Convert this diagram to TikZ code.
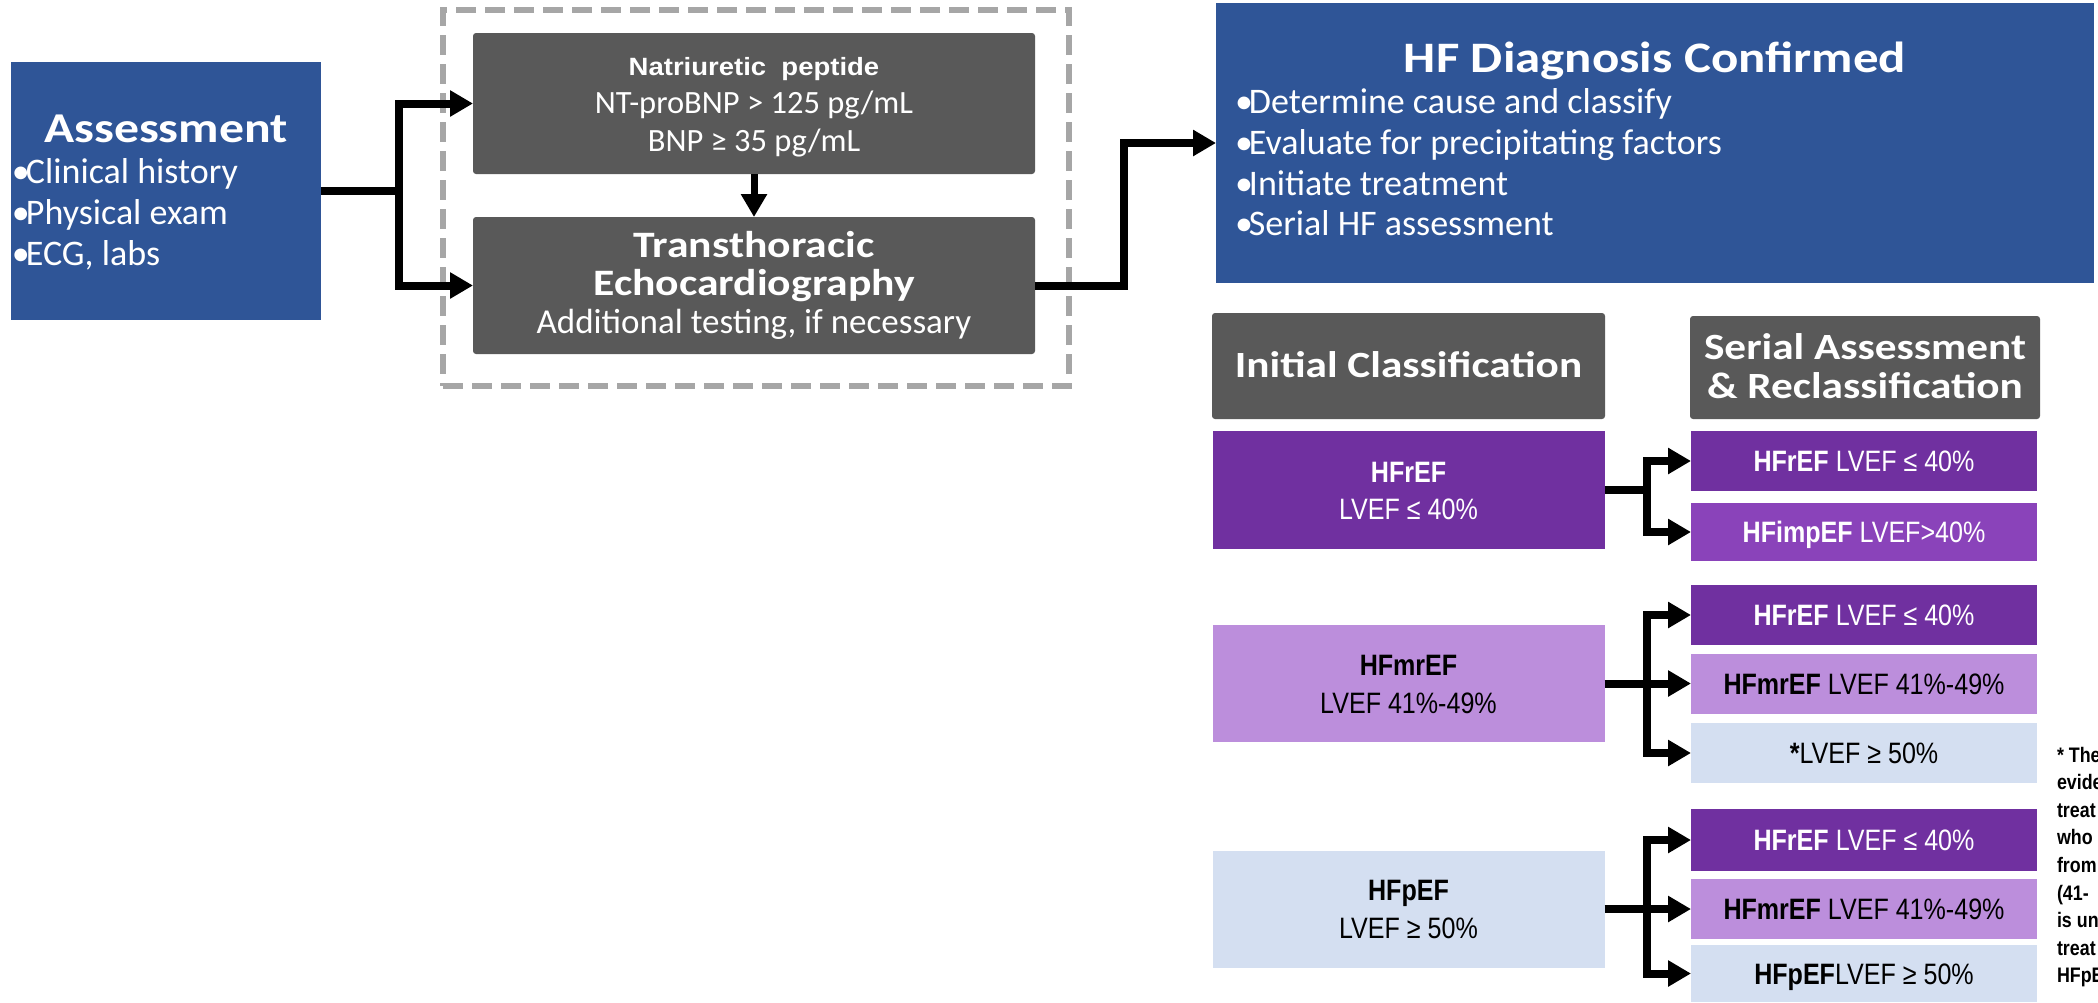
\documentclass[tikz,border=0pt]{standalone}
\usepackage{fontspec}
\setmainfont{Carlito}
\newfontfamily\wideface[FakeStretch=1.17]{Carlito}
\newfontfamily\narrowface[FakeStretch=0.85]{Liberation Sans}
\newfontfamily\npface[FakeStretch=1.1]{Liberation Sans}
\usetikzlibrary{arrows.meta}

\newcommand\blt{•\kern-4pt}

\definecolor{navy}{HTML}{2F5597}
\definecolor{slate}{HTML}{595959}
\definecolor{framegray}{HTML}{A6A6A6}
\definecolor{deeppurple}{HTML}{7030A0}
\definecolor{imppurple}{HTML}{8A43BA}
\definecolor{lilac}{HTML}{BC8EDC}
\definecolor{paleblue}{HTML}{D4DFF1}

\tikzset{
  box/.style={rectangle, inner sep=0pt, outer sep=0pt},
  graybox/.style={box, fill=slate, rounded corners=3pt},
  lbl/.style={inner sep=0pt, outer sep=0pt, anchor=base},
  lblw/.style={inner sep=0pt, outer sep=0pt, anchor=base west},
  headtxt/.style={font=\wideface\bfseries\fontsize{42.5}{51}\selectfont, text=white},
  bullettxt/.style={font=\fontsize{36}{43}\selectfont, text=white},
  classtxt/.style={font=\narrowface\fontsize{29.5}{37}\selectfont},
  reclass/.style={box, minimum width=346pt, font=\narrowface\fontsize{29.5}{37}\selectfont,
                  text height=21pt, text depth=0pt},
  initbox/.style={box, minimum width=392pt},
  conn/.style={line width=8pt, -{Triangle[length=23pt,width=25pt]}},
  notetxt/.style={lblw, font=\narrowface\bfseries\fontsize{21}{25}\selectfont},
}

\begin{document}
\begin{tikzpicture}[x=1pt,y=-1pt]
\useasboundingbox (0,0) rectangle (2098,1002);

% ---------- assessment ----------
\node[box, fill=navy, minimum width=310pt, minimum height=258pt] (assess) at (166,191) {};
\node[lbl, headtxt] (assesst) at (166,142) {Assessment};
\node[lblw, bullettxt] (assessb1) at (12,183) {\blt Clinical history};
\node[lblw, bullettxt] (assessb2) at (12,224) {\blt Physical exam};
\node[lblw, bullettxt] (assessb3) at (12,265) {\blt ECG, labs};

% ---------- testing block ----------
\node[box, draw=framegray, line width=6pt, dash pattern=on 20pt off 9pt,
      minimum width=626pt, minimum height=376pt] (dashframe) at (756,198) {};
\node[graybox, minimum width=562pt, minimum height=141pt] (np) at (754,103.5) {};
\node[lbl, text=white, font=\npface\bfseries\fontsize{25}{30}\selectfont] (npt1) at (754,75) {Natriuretic\ \ peptide};
\node[lbl, text=white, font=\fontsize{32.5}{39}\selectfont] (npt2) at (754,113) {NT-proBNP > 125 pg/mL};
\node[lbl, text=white, font=\fontsize{32.5}{39}\selectfont] (npt3) at (754,151) {BNP ≥ 35 pg/mL};

\node[graybox, minimum width=562pt, minimum height=137pt] (tte) at (754,285.5) {};
\node[lbl, text=white, font=\wideface\bfseries\fontsize{37.3}{45}\selectfont] (ttet1) at (754,257) {Transthoracic};
\node[lbl, text=white, font=\wideface\bfseries\fontsize{37.3}{45}\selectfont] (ttet2) at (754,295) {Echocardiography};
\node[lbl, text=white, font=\fontsize{35}{42}\selectfont] (ttet3) at (754,333) {Additional testing, if necessary};

% ---------- diagnosis confirmed ----------
\node[box, fill=navy, minimum width=878pt, minimum height=280pt] (hf) at (1655,143) {};
\node[lbl, font=\wideface\bfseries\fontsize{43.5}{52}\selectfont, text=white] (hft) at (1655,72) {HF Diagnosis Confirmed};
\node[lblw, bullettxt] (hfb1) at (1235,113) {\blt Determine cause and classify};
\node[lblw, bullettxt] (hfb2) at (1235,154) {\blt Evaluate for precipitating factors};
\node[lblw, bullettxt] (hfb3) at (1235,195) {\blt Initiate treatment};
\node[lblw, bullettxt] (hfb4) at (1235,235) {\blt Serial HF assessment};

% ---------- column headers ----------
\node[graybox, minimum width=393pt, minimum height=106pt] (hinit) at (1408.5,366) {};
\node[lbl, text=white, font=\wideface\bfseries\fontsize{37}{44}\selectfont] (hinitt) at (1408.5,377) {Initial Classification};
\node[graybox, minimum width=350pt, minimum height=103pt] (hserial) at (1865,367.5) {};
\node[lbl, text=white, font=\wideface\bfseries\fontsize{37}{44}\selectfont] (hserialt1) at (1865,359) {Serial Assessment};
\node[lbl, text=white, font=\wideface\bfseries\fontsize{37}{44}\selectfont] (hserialt2) at (1865,398) {\& Reclassification};

% ---------- initial classification ----------
\node[initbox, fill=deeppurple, minimum height=118pt] (init1) at (1408.5,490) {};
\node[lbl, classtxt, text=white] (init1a) at (1408.5,482) {\bfseries HFrEF};
\node[lbl, classtxt, text=white] (init1b) at (1408.5,519) {LVEF ≤ 40\%};

\node[initbox, fill=lilac, minimum height=117pt] (init2) at (1408.5,683.5) {};
\node[lbl, classtxt] (init2a) at (1408.5,675) {\bfseries HFmrEF};
\node[lbl, classtxt] (init2b) at (1408.5,713) {LVEF 41\%-49\%};

\node[initbox, fill=paleblue, minimum height=117pt] (init3) at (1408.5,909) {};
\node[lbl, classtxt] (init3a) at (1408.5,900.5) {\bfseries HFpEF};
\node[lbl, classtxt] (init3b) at (1408.5,938.5) {LVEF ≥ 50\%};

% ---------- reclassification ----------
\node[reclass, fill=deeppurple, text=white, minimum height=60pt] (r1) at (1864,461) {\textbf{HFrEF} LVEF ≤ 40\%};
\node[reclass, fill=imppurple, text=white, minimum height=58pt] (r2) at (1864,532) {\textbf{HFimpEF} LVEF>40\%};

\node[reclass, fill=deeppurple, text=white, minimum height=60pt] (r3) at (1864,615) {\textbf{HFrEF} LVEF ≤ 40\%};
\node[reclass, fill=lilac, minimum height=60pt] (r4) at (1864,683.5) {\textbf{HFmrEF} LVEF 41\%-49\%};
\node[reclass, fill=paleblue, minimum height=60pt] (r5) at (1864,753) {\textbf{*}LVEF ≥ 50\%};

\node[reclass, fill=deeppurple, text=white, minimum height=62pt] (r6) at (1864,840) {\textbf{HFrEF} LVEF ≤ 40\%};
\node[reclass, fill=lilac, minimum height=60pt] (r7) at (1864,909) {\textbf{HFmrEF} LVEF 41\%-49\%};
\node[reclass, fill=paleblue, minimum height=57pt] (r8) at (1864,973.5) {\textbf{HFpEF}LVEF ≥ 50\%};

% ---------- connectors ----------
\coordinate (j1) at (399,191);
\draw[conn] (assess.east) -- (j1) |- (np.west);
\draw[conn] (j1) |- (tte.west);
\draw[conn, line width=7pt] (np.south) -- (tte.north);
\coordinate (j2) at (1124,285.5);
\draw[conn] (tte.east) -- (j2) |- (hf.west);

\coordinate (j3) at (1647,490);
\draw[conn] (init1.east) -- (j3) |- (r1.west);
\draw[conn] (j3) |- (r2.west);

\coordinate (j4) at (1647,683.5);
\draw[conn] (init2.east) -- (r4.west);
\draw[conn] (j4) |- (r3.west);
\draw[conn] (j4) |- (r5.west);

\coordinate (j5) at (1647,909);
\draw[conn] (init3.east) -- (r7.west);
\draw[conn] (j5) |- (r6.west);
\draw[conn] (j5) |- (r8.west);

% ---------- footnote, running off the right edge ----------
\begin{scope}
\clip (2040,700) rectangle (2098,1002);
\node[notetxt] (n1) at (2057,762) {* The};
\node[notetxt] (n2) at (2057,789.6) {evide};
\node[notetxt] (n3) at (2057,817.2) {treat};
\node[notetxt] (n4) at (2057,844.8) {who};
\node[notetxt] (n5) at (2057,872.4) {from};
\node[notetxt] (n6) at (2057,900) {(41-};
\node[notetxt] (n7) at (2057,927.6) {is un};
\node[notetxt] (n8) at (2057,955.2) {treat};
\node[notetxt] (n9) at (2057,982.8) {HFpE};
\end{scope}
\end{tikzpicture}
\end{document}
